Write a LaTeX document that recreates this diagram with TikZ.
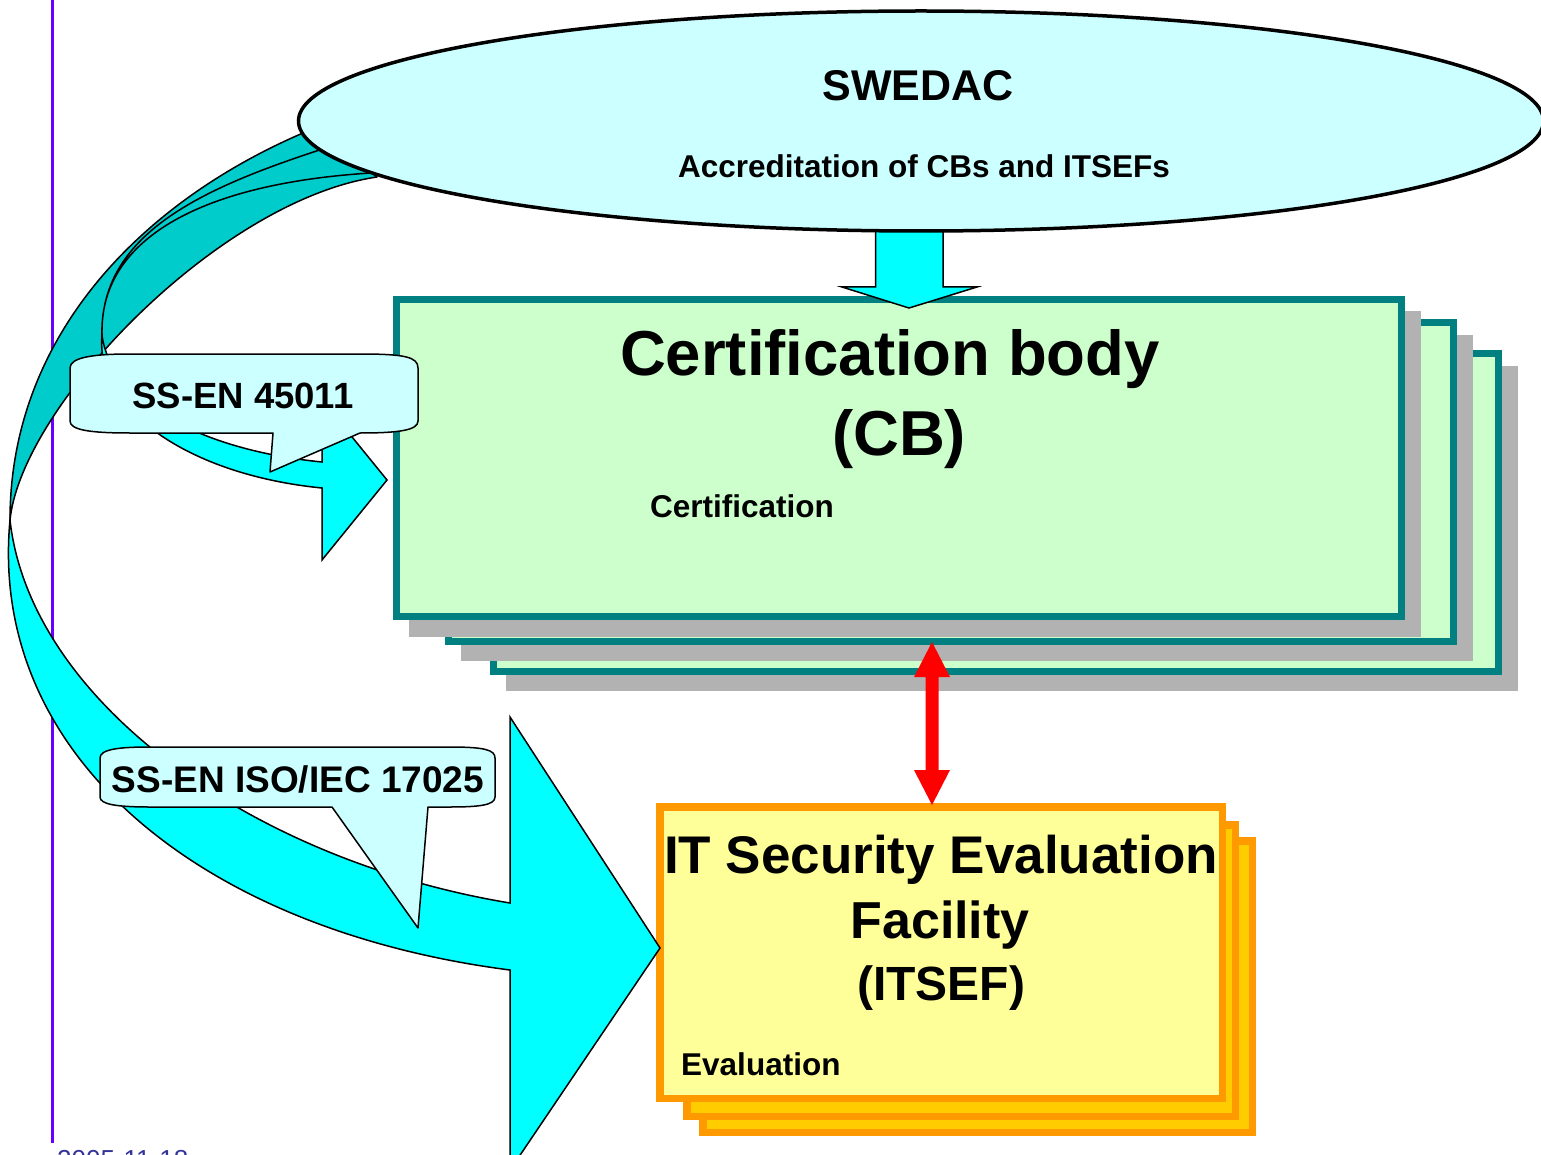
\documentclass[tikz,border=0pt]{standalone}
\usepackage{fontspec}
\setmainfont{Liberation Sans}
\usetikzlibrary{calc,shapes.geometric}
\definecolor{lcyan}{HTML}{CCFFFF}
\definecolor{acyan}{HTML}{00FFFF}
\definecolor{dcyan}{HTML}{00CCCC}
\definecolor{cbgreen}{HTML}{CCFFCC}
\definecolor{cbteal}{HTML}{008080}
\definecolor{shgray}{HTML}{B2B2B2}
\definecolor{itsefy}{HTML}{FFFF99}
\definecolor{itsefo}{HTML}{FF9900}
\definecolor{itsefg}{HTML}{FFCC00}
\definecolor{vline}{HTML}{6600FF}
\definecolor{datecol}{HTML}{333399}
\newcommand\fsz[1]{\fontsize{#1}{#1}\selectfont}
\begin{document}
\begin{tikzpicture}[x=1pt,y=-1pt,
  txt/.style={inner sep=0pt, anchor=base, font=\bfseries},
  cbbox/.style={draw=cbteal, fill=cbgreen, line width=7pt},
  shadowbox/.style={fill=shgray},
  itbox/.style={draw=itsefo, fill=itsefy, line width=7.5pt},
  itback/.style={draw=itsefo, fill=itsefg, line width=7.5pt},
  ribbonback/.style={draw=black, fill=dcyan, line width=1.5pt, line join=round},
  ribbonfront/.style={draw=black, fill=acyan, line width=1.5pt, line join=miter},
  blockarrow/.style={draw=black, fill=acyan, line width=1.5pt},
  bubble/.style={draw=black, fill=lcyan, line width=1.5pt, line join=round}]
\useasboundingbox (0,0) rectangle (1541,1155);
\fill[white] (0,0) rectangle (1541,1155);

% slide master line and date
\coordinate (vtop) at (52,0);
\coordinate (vbot) at (52,1143);
\draw[vline, line width=3pt] (vtop) -- (vbot);
\node[inner sep=0pt, anchor=base west, font=\fsz{26}, text=datecol] (date) at (57,1168) {2005-11-18};

% Certification body stack
\fill[shgray] (506,366) rectangle (1518,691);
\draw[cbbox] (493.5,353.5) rectangle (1498.5,671.5);
\fill[shgray] (461,335) rectangle (1473,661);
\draw[cbbox] (448.5,322.5) rectangle (1453.5,641.5);
\fill[shgray] (409,311) rectangle (1421,637);
\node[cbbox, minimum width=1005pt, minimum height=317pt, inner sep=0pt] (cb) at (899,458) {};

% ITSEF stack
\draw[itback] (702.75,840.75) rectangle (1252.25,1132.25);
\draw[itback] (686.75,824.75) rectangle (1235.25,1116.25);
\node[itbox, minimum width=562.5pt, minimum height=291.5pt, inner sep=0pt] (itsef) at (941,952.5) {};

% curved arrows: back (twisted) bands
\path[ribbonback] (315,128) .. controls (150,195) and (10,330) .. (10,520)
   .. controls (22,405) and (220,200) .. (377,177) -- cycle;
\path[ribbonback] (335,145) .. controls (210,185) and (100,230) .. (102,335)
   .. controls (99,240) and (200,180) .. (390,172) -- cycle;
% front bands with heads
\path[ribbonfront] (10,520) .. controls (30,700) and (250,860) .. (510,903)
   -- (510,717) -- (660,948) -- (510,1170) -- (510,970)
   .. controls (200,930) and (-12,755) .. (10,520) -- cycle;
\path[ribbonfront] (102,335) .. controls (110,400) and (200,450) .. (322,462)
   -- (322,400) -- (387,480) -- (322,560) -- (322,488)
   .. controls (190,475) and (95,410) .. (102,335) -- cycle;

% down arrow SWEDAC -> CB
\coordinate (dtop) at (909,225);
\coordinate (dtip) at (909,308);
\draw[blockarrow] ($(dtop)+(-33.5,0)$) -- ($(dtip)+(-33.5,-21)$) -- ($(dtip)+(-67,-21)$)
   -- (dtip) -- ($(dtip)+(68,-21)$) -- ($(dtip)+(34,-21)$) -- ($(dtop)+(34,0)$) -- cycle;

% SWEDAC ellipse
\node[ellipse, draw=black, line width=3.5pt, fill=lcyan, minimum width=1245pt,
      minimum height=220pt, inner sep=0pt] (swedac) at (921,121) {};

% callouts
\draw[bubble] (70,368) .. controls (70,357) and (95,354) .. (130,354) -- (360,354)
   .. controls (405,354) and (418,357) .. (418,368) -- (418,421)
   .. controls (418,430) and (400,433) .. (360,433) -- (270,472) -- (273,433)
   -- (130,433) .. controls (90,433) and (70,430) .. (70,421) -- cycle;
\draw[bubble] (100,758) .. controls (100,749) and (120,747) .. (150,747) -- (450,747)
   .. controls (485,747) and (495,750) .. (495,758) -- (495,797)
   .. controls (495,805) and (480,807) .. (450,807) -- (428,807) -- (418,928)
   -- (332,807) -- (150,807) .. controls (115,807) and (100,804) .. (100,797) -- cycle;

% texts
\node[txt, font=\bfseries\fsz{43}] (t1) at (918,101) {SWEDAC};
\node[txt, font=\bfseries\fsz{31.5}] (t2) at (924,178) {Accreditation of CBs and ITSEFs};
\node[txt, font=\bfseries\fsz{63.5}] (t3) at (890,375) {Certification body};
\node[txt, font=\bfseries\fsz{63.5}] (t4) at (899,455) {(CB)};
\node[txt, anchor=base west, font=\bfseries\fsz{31.5}] (t5) at (650,517) {Certification};
\node[txt, font=\bfseries\fsz{53}] (t6) at (941,873) {IT Security Evaluation};
\node[txt, font=\bfseries\fsz{52}] (t7) at (940,938) {Facility};
\node[txt, font=\bfseries\fsz{48}] (t8) at (941,1000) {(ITSEF)};
\node[txt, anchor=base west, font=\bfseries\fsz{31.5}] (t9) at (681,1075) {Evaluation};
\node[txt, font=\bfseries\fsz{36.5}] (t10) at (243,408) {SS-EN 45011};
\node[txt, font=\bfseries\fsz{37}] (t11) at (298,792) {SS-EN ISO/IEC 17025};

% red double arrow CB <-> ITSEF
\coordinate (rtop) at (932,642);
\coordinate (rbot) at (932,805);
\fill[red] (rtop) -- ($(rtop)+(18,35)$) -- ($(rtop)+(6.5,35)$) -- ($(rbot)+(6.5,-35)$)
   -- ($(rbot)+(18,-35)$) -- (rbot) -- ($(rbot)+(-18,-35)$) -- ($(rbot)+(-6.5,-35)$)
   -- ($(rtop)+(-6.5,35)$) -- ($(rtop)+(-18,35)$) -- cycle;
\end{tikzpicture}
\end{document}
